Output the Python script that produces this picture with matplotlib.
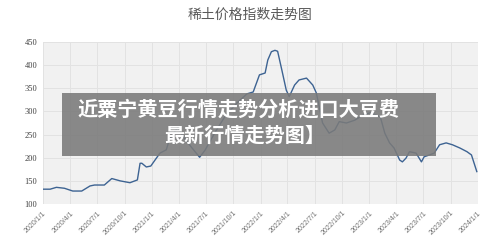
import matplotlib
matplotlib.use("Agg")
import matplotlib.pyplot as plt
import matplotlib.dates as mdates
from matplotlib.patches import Rectangle
import pandas as pd

# --------------------------------------------------------------------------- #
# data
# --------------------------------------------------------------------------- #
dates = [
    "2020-01-01", "2020-01-25", "2020-02-15", "2020-03-13", "2020-04-10",
    "2020-05-10", "2020-06-07", "2020-06-22", "2020-07-25", "2020-08-19",
    "2020-09-16", "2020-10-19", "2020-11-13", "2020-11-22", "2020-11-28",
    "2020-12-13", "2020-12-28", "2021-01-19", "2021-01-28", "2021-02-18",
    "2021-03-01", "2021-03-28", "2021-04-22", "2021-05-13", "2021-06-10",
    "2021-06-28", "2021-08-01", "2021-09-04", "2021-10-13", "2021-11-16",
    "2021-12-07", "2021-12-28", "2022-01-16", "2022-01-25", "2022-02-06",
    "2022-02-18", "2022-02-27", "2022-03-13", "2022-03-28", "2022-04-07",
    "2022-04-25", "2022-05-10", "2022-06-04", "2022-06-25", "2022-07-07",
    "2022-07-28", "2022-08-19", "2022-09-07", "2022-09-22", "2022-10-16",
    "2022-11-13", "2022-12-10", "2023-01-04", "2023-01-25", "2023-02-07",
    "2023-02-22", "2023-03-10", "2023-03-25", "2023-04-13", "2023-04-22",
    "2023-05-04", "2023-05-16", "2023-06-07", "2023-06-25", "2023-07-04",
    "2023-07-22", "2023-08-07", "2023-08-25", "2023-09-16", "2023-10-07",
    "2023-11-01", "2023-11-25", "2023-12-10", "2023-12-19", "2023-12-28",
]
index_values = [
    132, 132, 136, 134, 128,
    128, 139, 141, 141, 155,
    150, 146, 152, 188, 188,
    180, 182, 202, 210, 217,
    240, 265, 240, 223, 201,
    216, 255, 290, 318, 338,
    342, 379, 383, 411, 429,
    432, 430, 390, 346, 332,
    357, 368, 372, 357, 340,
    275, 253, 260, 278, 275,
    281, 292, 297, 292, 288,
    253, 232, 221, 195, 191,
    199, 213, 210, 191, 202,
    206, 210, 228, 232, 228,
    221, 213, 206, 188, 170,
]
tick_dates = pd.date_range("2020-01-01", "2024-01-01", freq="QS")
tick_labels = [f"{d.year}/{d.month}/1" for d in tick_dates]
y_ticks = [100, 150, 200, 250, 300, 350, 400, 450]

title = "稀土价格指数走势图"
overlay_lines = ["近粟宁黄豆行情走势分析进口大豆费", "最新行情走势图】"]

# --------------------------------------------------------------------------- #
# figure
# --------------------------------------------------------------------------- #
fig = plt.figure(figsize=(5, 2.5), dpi=100, facecolor="white")
ax = fig.add_axes([0.086, 0.184, 0.870, 0.648])
ax.set_facecolor("#f1f1f1")

x = pd.to_datetime(dates)
ax.plot(x, index_values, color="#3d6392", lw=1.0)

ax.set_xlim(tick_dates[0], tick_dates[-1])
ax.set_ylim(100, 450)
ax.set_yticks(y_ticks)
ax.set_yticklabels([str(v) for v in y_ticks], family="Liberation Serif",
                   fontsize=6, color="#404040")
ax.set_xticks(tick_dates)
ax.set_xticklabels(tick_labels, rotation=45, ha="right", rotation_mode="anchor",
                   family="Liberation Sans", fontsize=5, color="#707070")
ax.tick_params(length=0, pad=4)
ax.grid(True, color="#e2e2e2", lw=0.7)
ax.set_axisbelow(True)
for s in ax.spines.values():
    s.set_visible(False)

fig.text(0.5, 0.94, title, ha="center", va="center", fontsize=10,
         color="#595959", family=["Noto Sans CJK SC", "DejaVu Sans"])

# grey caption box laid over the chart
fig.patches.append(Rectangle((62 / 500, 1 - 156 / 250), 374 / 500, 63 / 250,
                             transform=fig.transFigure, facecolor="#7a7a7a",
                             alpha=0.88, edgecolor="none", zorder=5))
fig.text(0.476, 1 - 109 / 250, overlay_lines[0], ha="center", va="center",
         fontsize=14.5, fontweight="heavy", color="white", zorder=6,
         family=["Noto Sans CJK SC", "DejaVu Sans"])
fig.text(0.49, 1 - 135 / 250, overlay_lines[1], ha="center", va="center",
         fontsize=14.5, fontweight="heavy", color="white", zorder=6,
         family=["Noto Sans CJK SC", "DejaVu Sans"])

fig.savefig("out.png", dpi=100)
plt.close(fig)
